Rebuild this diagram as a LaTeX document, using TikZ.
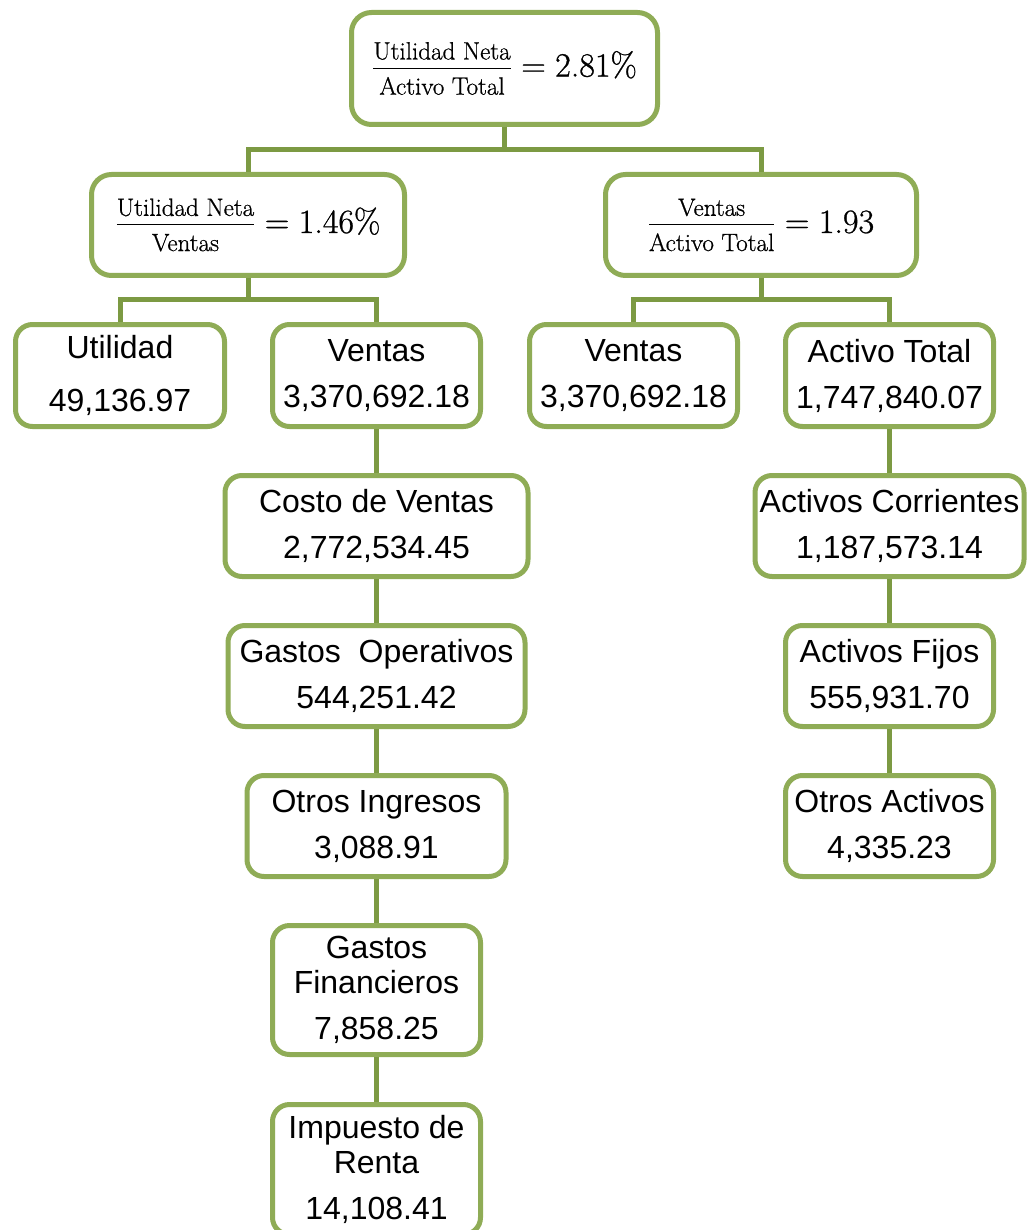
\documentclass[tikz,border=0pt]{standalone}
\usepackage{fix-cm}
\usepackage[no-math]{fontspec}
\setmainfont{Liberation Sans}
\newfontfamily\ratiofont{Latin Modern Roman}[FakeBold=0.8]
\usetikzlibrary{positioning}
\definecolor{bx}{HTML}{8FAC56}
\definecolor{ln}{HTML}{7C9A43}
\newcommand{\ratiosmall}{\fontsize{25}{27}\selectfont\ratiofont\addfontfeature{FakeBold=0.8}}
\newcommand{\ratio}[3]{$\frac{\mbox{\ratiosmall #1}\rule[-8pt]{0pt}{0pt}}%
  {\rule{0pt}{26pt}\mbox{\ratiosmall #2}}
  \mathrel{\mbox{\ratiofont\addfontfeature{FakeBold=0.8}=}}
  \mbox{\ratiofont\addfontfeature{FakeBold=0.8}#3}$}
\tikzset{
  ibox/.style={
    rectangle, rounded corners=17pt, draw=bx, line width=5pt,
    fill=white, text=black, font=\fontsize{32}{35}\selectfont,
    minimum height=101pt, minimum width=208pt,
    align=center, inner sep=0pt
  },
  rbox/.style={ibox, rounded corners=20pt, font=\fontsize{34}{40}\selectfont},
  link/.style={draw=ln, line width=5pt}
}

\begin{document}
\begin{tikzpicture}[x=1pt,y=-1pt]

\useasboundingbox (0,0) rectangle (1026,1230);

% ── Ratios ────────────────────────────────────────────────────────
\node[rbox, minimum width=306pt, minimum height=112pt] (top) at (504.5,68.5)
  {\ratio{Utilidad Neta}{Activo Total}{2.81\%}};
\node[rbox, minimum width=313pt] (margen) at (248,225)
  {\ratio{Utilidad Neta}{Ventas}{1.46\%}};
\node[rbox, minimum width=311pt] (rotacion) at (761,225)
  {\ratio{Ventas}{Activo Total}{1.93}};

% ── Second row ────────────────────────────────────────────────────
\node[ibox, minimum width=209pt, minimum height=102pt] (util) at (120,375.5)
  {Utilidad\\[18pt]49,136.97};
\node[ibox, minimum height=102pt] (ventasL) at (376.5,375.5)
  {Ventas\\[11pt]3,370,692.18};
\node[ibox, minimum height=102pt] (ventasR) at (633.5,375.5)
  {Ventas\\[11pt]3,370,692.18};
\node[ibox, minimum height=102pt] (activo) at (889.5,375.5)
  {Activo Total\\[11pt]1,747,840.07};

% ── Left column: results ──────────────────────────────────────────
\node[ibox, minimum width=303pt, below=44pt of ventasL] (costo)
  {Costo de Ventas\\[11pt]2,772,534.45};
\node[ibox, minimum width=297pt, below=44pt of costo] (gastop)
  {Gastos\ \ Operativos\\[11pt]544,251.42};
\node[ibox, minimum width=259pt, below=44pt of gastop] (otrosing)
  {Otros Ingresos\\[11pt]3,088.91};
\node[ibox, minimum height=129pt, below=44pt of otrosing] (gastfin)
  {Gastos\\Financieros\\[11pt]7,858.25};
\node[ibox, minimum height=130pt, below=45pt of gastfin] (impuesto)
  {Impuesto de\\Renta\\[11pt]14,108.41};

% ── Right column: assets ──────────────────────────────────────────
\node[ibox, minimum width=269pt, below=44pt of activo] (corr)
  {Activos Corrientes\\[11pt]1,187,573.14};
\node[ibox, below=44pt of corr] (fijos)
  {Activos Fijos\\[11pt]555,931.70};
\node[ibox, below=44pt of fijos] (otrosact)
  {Otros Activos\\[11pt]4,335.23};

% ── Connectors ────────────────────────────────────────────────────
\draw[link] (top.south) -- ++(0,22.5) -| (margen.north);
\draw[link] (top.south) -- ++(0,22.5) -| (rotacion.north);
\draw[link] (margen.south) -- ++(0,21.5) -| (util.north);
\draw[link] (margen.south) -- ++(0,21.5) -| (ventasL.north);
\draw[link] (rotacion.south) -- ++(0,21.5) -| (ventasR.north);
\draw[link] (rotacion.south) -- ++(0,21.5) -| (activo.north);

\draw[link] (ventasL)  -- (costo);
\draw[link] (costo)    -- (gastop);
\draw[link] (gastop)   -- (otrosing);
\draw[link] (otrosing) -- (gastfin);
\draw[link] (gastfin)  -- (impuesto);

\draw[link] (activo) -- (corr);
\draw[link] (corr)   -- (fijos);
\draw[link] (fijos)  -- (otrosact);

\end{tikzpicture}
\end{document}
